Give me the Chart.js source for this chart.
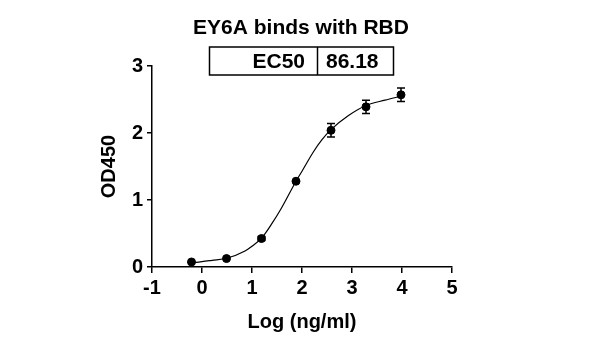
<!DOCTYPE html>
<html>
<head>
<meta charset="utf-8">
<script src="https://cdn.jsdelivr.net/npm/chart.js@4"></script>
<style>
  html, body { margin: 0; padding: 0; background: #fff; }
  #wrap { width: 600px; height: 348px; position: relative; }
</style>
</head>
<body>
<div id="wrap"><canvas id="c" width="600" height="348"></canvas></div>
<script>
// log concentration (ng/ml), OD450 means and SD
const logConc = [-0.21, 0.49, 1.19, 1.88, 2.58, 3.28, 3.98];
const od450 = [0.075, 0.126, 0.425, 1.28, 2.04, 2.39, 2.57];
const odErr = [0.0, 0.0, 0.03, 0.0, 0.10, 0.10, 0.10];
// fitted curve at several x positions
const fitX = [-0.24, 0.0, 0.2, 0.49, 0.86, 1.0, 1.19, 1.4, 1.59, 1.88, 2.0, 2.23, 2.4, 2.58, 2.93, 3.28, 3.66, 3.98];
const fitY = [0.06, 0.08, 0.10, 0.13, 0.24, 0.31, 0.43, 0.65, 0.88, 1.28, 1.43, 1.72, 1.90, 2.05, 2.26, 2.41, 2.49, 2.55];
const xTicks = [-1, 0, 1, 2, 3, 4, 5];
const yTicks = [0, 1, 2, 3];
const titleText = 'EY6A binds with RBD';
const ec50Label = 'EC50';
const ec50Value = '86.18';

const FONT = '"Liberation Sans", Arial, sans-serif';

// Plugin: vertical error bars with caps
const errorBars = {
  id: 'errorBars',
  afterDatasetsDraw(ch) {
    const { ctx, scales: { x, y } } = ch;
    ctx.save();
    ctx.strokeStyle = '#000';
    ctx.lineWidth = 1.5;
    logConc.forEach((lx, i) => {
      const e = odErr[i];
      if (!e) return;
      const px = x.getPixelForValue(lx);
      const top = y.getPixelForValue(od450[i] + e);
      const bot = y.getPixelForValue(od450[i] - e);
      ctx.beginPath();
      ctx.moveTo(px, top); ctx.lineTo(px, bot);
      ctx.moveTo(px - 4, top); ctx.lineTo(px + 4, top);
      ctx.moveTo(px - 4, bot); ctx.lineTo(px + 4, bot);
      ctx.stroke();
    });
    ctx.restore();
  },
};

// Plugin: title and EC50 box above the plot
const header = {
  id: 'header',
  afterDraw(ch) {
    const c = ch.ctx;
    c.save();
    c.fillStyle = '#000';
    c.font = `bold 21px ${FONT}`;
    c.textBaseline = 'middle';
    c.textAlign = 'center';
    c.fillText(titleText, 301, 28);

    c.strokeStyle = '#000';
    c.lineWidth = 1.5;
    c.strokeRect(209.5, 47, 184, 28);
    c.beginPath();
    c.moveTo(317.5, 47); c.lineTo(317.5, 75);
    c.stroke();

    c.textAlign = 'right';
    c.fillText(ec50Label, 305, 62);
    c.textAlign = 'left';
    c.fillText(ec50Value, 326, 62);
    c.restore();
  },
};

const tickFont = { family: FONT, size: 20, weight: 'bold' };

new Chart(document.getElementById('c'), {
  type: 'scatter',
  plugins: [errorBars, header],
  data: {
    datasets: [{
      data: fitX.map((v, i) => ({ x: v, y: fitY[i] })),
      showLine: true,
      borderColor: '#000',
      borderWidth: 1.2,
      pointRadius: 0,
      cubicInterpolationMode: 'monotone',
      fill: false,
    }, {
      data: logConc.map((v, i) => ({ x: v, y: od450[i] })),
      showLine: false,
      pointRadius: 4,
      pointBackgroundColor: '#000',
      pointBorderColor: '#000',
    }],
  },
  options: {
    responsive: false,
    animation: false,
    layout: { padding: { left: 0, top: 66, right: 148, bottom: 0 } },
    plugins: { legend: { display: false }, tooltip: { enabled: false } },
    scales: {
      x: {
        type: 'linear',
        min: xTicks[0],
        max: xTicks[xTicks.length - 1],
        afterBuildTicks: s => { s.ticks = xTicks.map(v => ({ value: v })); },
        afterFit: s => { s.height = 81; },
        ticks: { color: '#000', font: tickFont, padding: 3, maxRotation: 0 },
        grid: { drawOnChartArea: false, drawTicks: true, tickLength: 6, color: '#000', lineWidth: 1.5 },
        border: { color: '#000', width: 1.5 },
        title: { display: true, text: 'Log (ng/ml)', color: '#000', font: tickFont, padding: { top: 0, bottom: 14 } },
      },
      y: {
        min: yTicks[0],
        max: yTicks[yTicks.length - 1],
        afterBuildTicks: s => { s.ticks = yTicks.map(v => ({ value: v })); },
        afterFit: s => { s.width = 152; },
        ticks: { color: '#000', font: tickFont, padding: 4 },
        grid: { drawOnChartArea: false, drawTicks: true, tickLength: 5, color: '#000', lineWidth: 1.5 },
        border: { color: '#000', width: 1.5 },
        title: { display: true, text: 'OD450', color: '#000', font: tickFont, padding: { top: 97, bottom: 0 } },
      },
    },
  },
});
</script>
</body>
</html>
